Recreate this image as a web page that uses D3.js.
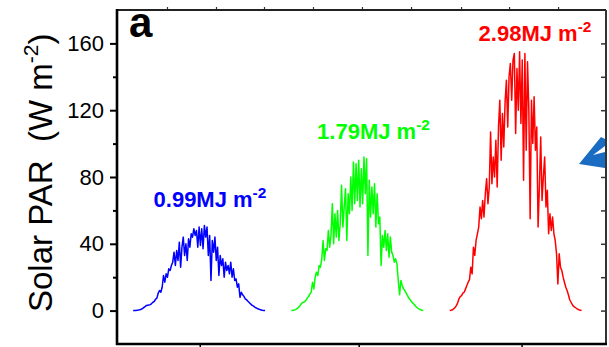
<!DOCTYPE html>
<html><head><meta charset="utf-8">
<script src="https://cdn.jsdelivr.net/npm/d3@7"></script>
<style>
html,body{margin:0;padding:0;background:#fff;}
svg{display:block;font-family:"Liberation Sans",Arial,Helvetica,sans-serif;}
</style></head><body>
<svg id="chart" width="609" height="347"></svg>
<script>
// Solar PAR (W m-2), 12-minute samples from 02:00 to 22:00 on three successive days
const sampleStartHour = 2;
const sampleStepHours = 0.2;

const parDay1 = [
  0, 0, 0.1, 0.2, 0.3, 0.5, 0.8, 1.2, 1.8, 2.4,
  3.0, 3.2, 3.3, 3.6, 4.2, 5.0, 5.5, 6.8, 7.5, 10.5,
  12, 11, 14, 21, 17, 22, 20, 25, 24, 27,
  29, 35, 27, 36, 30, 41, 26, 38, 44, 33,
  40, 30, 43, 38, 46, 44, 49, 45, 48, 38,
  50, 39, 49, 37, 51, 44, 50, 33, 45, 18,
  42, 35, 44, 30, 38, 21, 33, 27, 31, 20,
  29, 24, 27, 22, 29, 20, 25, 18, 19, 14,
  16, 8, 11, 9.5, 8.5, 7, 6.5, 5.6, 4.8, 4.0,
  3.3, 2.8, 2.2, 1.7, 1.3, 1.0, 0.6, 0.4, 0.2, 0.1, 0
];

const parDay2 = [
  0, 0.1, 0.3, 0.6, 1.0, 1.6, 2.4, 3.6, 4.6, 5.0,
  5.3, 6.2, 7.5, 8.4, 10, 11, 17, 13, 20, 23,
  21, 27, 26, 31, 42, 30, 37, 36, 48, 38,
  45, 64, 40, 58, 44, 60, 42, 52, 75, 50,
  62, 73, 42, 70, 58, 80, 60, 89, 64, 88,
  66, 90, 62, 85, 64, 92, 70, 91, 33, 78,
  56, 74, 58, 76, 50, 70, 52, 56, 27, 45,
  38, 48, 36, 46, 32, 44, 35, 33, 29, 31,
  28, 18, 9.5, 18, 15, 13, 12, 10.5, 9, 7.5,
  6.5, 5.5, 4.5, 3.8, 2.8, 2.0, 1.4, 0.9, 0.5, 0.2, 0
];

const parDay3 = [
  0, 0.2, 0.5, 1.0, 1.8, 3.0, 4.5, 7.0, 8.4, 9.0,
  10.5, 11, 13, 15, 17, 18.5, 26, 22, 38, 33,
  42, 46, 50, 62, 55, 66, 56, 70, 79, 64,
  74, 107, 76, 92, 80, 102, 74, 110, 126, 90,
  118, 98, 125, 138, 110, 140, 148, 126, 150, 154,
  106, 145, 120, 155, 112, 150, 78, 154, 96, 149,
  120, 55, 126, 100, 128, 96, 110, 50, 74, 104,
  66, 80, 92, 62, 72, 46, 58, 48, 56, 46,
  42, 34, 16, 34, 26, 24, 20, 17, 14, 12,
  9.5, 6.5, 5.0, 3.5, 2.5, 2.0, 1.4, 0.9, 0.5, 0.2, 0
];

const dailyTotals = ["0.99", "1.79", "2.98"];   // MJ m-2 per day
const seriesColors = ["#0000ff", "#00ff00", "#ff0000"];

const yMajorTicks = [0, 40, 80, 120, 160];
const yMinorTicks = [20, 60, 100, 140];
const xBottomTicks = [12.1, 36.2, 60.9];
const xTopTicks = [7.13, 14.56, 21.84, 29.27, 36.7, 44.14, 51.72, 59.0, 66.43];

const days = [parDay1, parDay2, parDay3];

const svg = d3.select("#chart");
const plotL = 117, plotR = 606, plotT = 10, plotB = 344;

const x = d3.scaleLinear().domain([-0.45, 73.7]).range([plotL, plotR]);
const y = d3.scaleLinear().domain([-20, 180]).range([plotB, plotT]);

// diurnal PAR traces
const line = d3.line()
  .x(d => x(d.t))
  .y(d => y(d.v));

days.forEach((vals, di) => {
  const pts = vals.map((v, i) => ({ t: di * 24 + sampleStartHour + i * sampleStepHours, v }));
  svg.append("path")
    .datum(pts)
    .attr("fill", "none")
    .attr("stroke", seriesColors[di])
    .attr("stroke-width", 1.5)
    .attr("stroke-linejoin", "round")
    .attr("d", line);
});

// daily integrated PAR labels
const labelCenterHours = [13.65, 38.45, 62.94];
const labelLevels = [62, 102.8, 161.4];
dailyTotals.forEach((tot, i) => {
  const t = svg.append("text")
    .attr("x", x(labelCenterHours[i]))
    .attr("y", y(labelLevels[i]))
    .attr("text-anchor", "middle")
    .attr("fill", seriesColors[i])
    .attr("font-weight", "bold")
    .attr("font-size", 22);
  t.append("tspan").text(tot + "MJ m");
  t.append("tspan").attr("dy", -9).attr("font-size", 15.5).text("-2");
});

// left axis
const gLeft = svg.append("g").attr("transform", `translate(${plotL},0)`);
gLeft.call(d3.axisLeft(y).tickValues(yMajorTicks).tickSize(7).tickSizeOuter(0).tickPadding(6));
gLeft.select(".domain").remove();
gLeft.selectAll(".tick line").attr("stroke", "#000").attr("stroke-width", 2);
gLeft.selectAll(".tick text")
  .attr("font-family", "'Liberation Sans', Arial, sans-serif")
  .attr("font-size", 22).attr("fill", "#000");
const gLeftMinor = svg.append("g").attr("transform", `translate(${plotL},0)`);
gLeftMinor.call(d3.axisLeft(y).tickValues(yMinorTicks).tickSize(4).tickSizeOuter(0).tickFormat(""));
gLeftMinor.select(".domain").remove();
gLeftMinor.selectAll(".tick line").attr("stroke", "#000").attr("stroke-width", 2);

// right axis, inward ticks
const gRight = svg.append("g").attr("transform", `translate(${plotR},0)`);
gRight.call(d3.axisRight(y).tickValues(yMajorTicks.concat(yMinorTicks)).tickSize(-5).tickSizeOuter(0).tickFormat(""));
gRight.select(".domain").remove();
gRight.selectAll(".tick line").attr("stroke", "#333").attr("stroke-width", 1.5);

// bottom axis
const gBottom = svg.append("g").attr("transform", `translate(0,${plotB})`);
gBottom.call(d3.axisBottom(x).tickValues(xBottomTicks).tickSize(6).tickSizeOuter(0).tickFormat(""));
gBottom.select(".domain").remove();
gBottom.selectAll(".tick line").attr("stroke", "#000").attr("stroke-width", 1.5);

// top axis
const gTop = svg.append("g").attr("transform", `translate(0,${plotT})`);
gTop.call(d3.axisTop(x).tickValues(xTopTicks).tickSize(3).tickSizeOuter(0).tickFormat(""));
gTop.select(".domain").remove();
gTop.selectAll(".tick line").attr("stroke", "#333").attr("stroke-width", 1.2);

// frame
svg.append("line").attr("x1", plotL).attr("x2", plotR).attr("y1", plotT).attr("y2", plotT)
  .attr("stroke", "#222").attr("stroke-width", 2);
svg.append("line").attr("x1", plotR).attr("x2", plotR).attr("y1", plotT).attr("y2", plotB)
  .attr("stroke", "#333").attr("stroke-width", 2);
svg.append("line").attr("x1", plotL - 1).attr("x2", plotR + 1).attr("y1", plotB).attr("y2", plotB)
  .attr("stroke", "#000").attr("stroke-width", 2.6);
svg.append("line").attr("x1", plotL).attr("x2", plotL).attr("y1", plotT - 1).attr("y2", plotB + 1)
  .attr("stroke", "#000").attr("stroke-width", 2.6);

// y axis title
const yTitle = svg.append("text")
  .attr("transform", "translate(52,312) rotate(-90)")
  .attr("font-size", 33)
  .attr("fill", "#000");
yTitle.append("tspan").text("Solar PAR\u00a0 (W m");
yTitle.append("tspan").attr("dy", -14).attr("font-size", 21).text("-2");
yTitle.append("tspan").attr("dy", 14).text(")");

// panel letter
svg.append("text")
  .attr("x", 129).attr("y", 37)
  .attr("font-size", 42).attr("font-weight", "bold")
  .attr("fill", "#000")
  .text("a");

// pointer arrow at the right edge
svg.append("path")
  .attr("d", "M579,164 L601,137 L605,139 L605,146 L593,155 L605,152 L605,168 Z")
  .attr("fill", "#1a6bc2");
</script>
</body></html>
